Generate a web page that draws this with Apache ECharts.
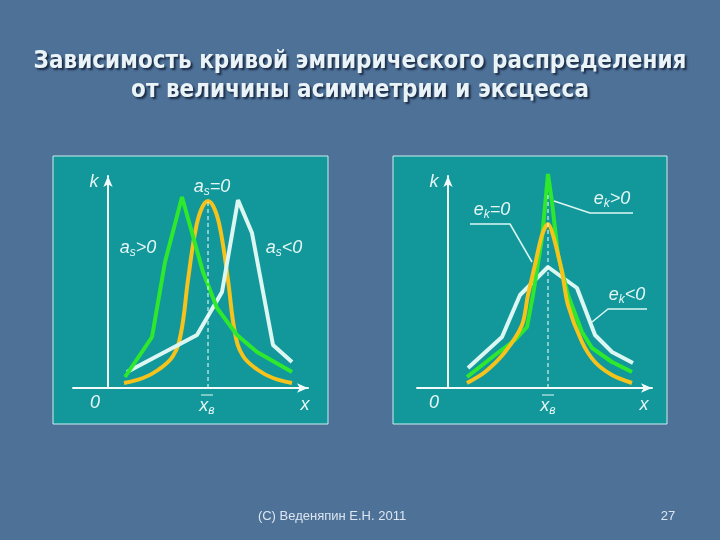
<!DOCTYPE html>
<html>
<head>
<meta charset="utf-8">
<script src="https://cdn.jsdelivr.net/npm/echarts@6/dist/echarts.min.js"></script>
<style>
  html, body { margin: 0; padding: 0; background: #4e7198; }
  #chart { width: 720px; height: 540px; }
</style>
</head>
<body>
<div id="chart"></div>
<script>
// left panel: asymmetry (as)
const skewPosX = [17, 44, 57, 74, 95, 109, 129, 149, 184];
const skewPosY = [11, 51, 126, 191, 116, 80, 53, 36, 16];
const skewZeroX = [16, 35, 50, 65, 73, 80, 87, 93, 100, 107, 113, 120, 127, 135, 150, 165, 184];
const skewZeroY = [5, 10, 18, 32, 55, 108, 155, 178, 187, 178, 155, 108, 55, 32, 18, 10, 5];
const skewNegX = [19, 89, 114, 130, 144, 165, 184];
const skewNegY = [16, 53, 96, 188, 155, 43, 26];

// right panel: excess (ek)
const kurtPosX = [19, 47, 67, 79, 85, 94, 100, 104, 110, 120, 134, 144, 164, 184];
const kurtPosY = [11, 33, 48, 61, 93, 150, 214, 186, 133, 93, 56, 40, 26, 16];
const kurtZeroX = [19, 37, 57, 74, 80, 87, 94, 100, 105, 114, 120, 134, 147, 164, 184];
const kurtZeroY = [5, 16, 36, 63, 93, 123, 153, 164, 153, 116, 83, 46, 26, 13, 5];
const kurtNegX = [20, 54, 72, 100, 129, 147, 164, 185];
const kurtNegY = [20, 51, 93, 121, 100, 53, 36, 25];

const meanX = 100;

const pairs = (xs, ys) => xs.map((x, i) => [x, ys[i]]);

const GREEN = '#2ee82e';
const YELLOW = '#f6c21c';
const WHITE = '#dcf6f2';
const TEAL = '#12989a';
const LABEL = '#e6f6f6';

const myChart = echarts.init(document.getElementById('chart'), null, { renderer: 'canvas' });

function axisX(idx, min, max) {
    return {
        gridIndex: idx, type: 'value', min: min, max: max,
        axisLine: { onZero: true, lineStyle: { color: '#f2fafa', width: 2 }, symbol: ['none', 'arrow'], symbolSize: [7, 11] },
        axisTick: { show: false }, axisLabel: { show: false }, splitLine: { show: false }
    };
}
function axisY(idx) {
    return {
        gridIndex: idx, type: 'value', min: 0, max: 212,
        axisLine: { onZero: true, lineStyle: { color: '#f2fafa', width: 2 }, symbol: ['none', 'arrow'], symbolSize: [7, 11] },
        axisTick: { show: false }, axisLabel: { show: false }, splitLine: { show: false }
    };
}
function curve(idx, xs, ys, color, smooth) {
    return {
        type: 'line', xAxisIndex: idx, yAxisIndex: idx,
        data: pairs(xs, ys), smooth: smooth, symbol: 'none', clip: false, silent: true,
        lineStyle: { color: color, width: 4 }, z: 3
    };
}
function leader(idx, pts) {
    return {
        type: 'line', xAxisIndex: idx, yAxisIndex: idx, data: pts, symbol: 'none',
        silent: true, lineStyle: { color: WHITE, width: 1.5 }, z: 4
    };
}
function dashed(idx, top) {
    return {
        type: 'line', xAxisIndex: idx, yAxisIndex: idx, data: [[meanX, 0], [meanX, top]],
        symbol: 'none', silent: true, lineStyle: { color: '#ffffff', width: 1, type: [4, 3] }, z: 5
    };
}

// label with subscript: main letter, sub letter, tail
function subLabel(x, y, main, sub, tail) {
    return {
        type: 'text', x: x, y: y, z: 100,
        style: {
            text: '{m|' + main + '}{s|' + sub + '}{m|' + tail + '}',
            textAlign: 'center', textVerticalAlign: 'middle',
            rich: {
                m: { fontSize: 18, fontStyle: 'italic', fontFamily: 'Liberation Sans', fill: LABEL, lineHeight: 22, verticalAlign: 'middle' },
                s: { fontSize: 12, fontStyle: 'italic', fontFamily: 'Liberation Sans', fill: LABEL, lineHeight: 10, verticalAlign: 'bottom' }
            }
        }
    };
}
function plainLabel(x, y, t) {
    return {
        type: 'text', x: x, y: y, z: 100,
        style: { text: t, textAlign: 'center', textVerticalAlign: 'middle', fill: LABEL,
                 font: 'italic 18px "Liberation Sans"' }
    };
}
function meanLabel(x, y) {
    return [
        subLabel(x, y, 'x', 'в', ''),
        { type: 'line', z: 100, shape: { x1: x - 6, y1: y - 11, x2: x + 6, y2: y - 11 }, style: { stroke: LABEL, lineWidth: 1 } }
    ];
}
function titleLine(y, t) {
    return {
        type: 'text', x: 360, y: y, z: 100,
        style: { text: t, textAlign: 'center', textVerticalAlign: 'middle',
                 fill: '#eaf4f8', font: 'bold 24px "DejaVu Sans Condensed"',
                 textShadowColor: 'rgba(10,20,40,0.75)', textShadowOffsetX: 2, textShadowOffsetY: 2, textShadowBlur: 2 }
    };
}

myChart.setOption({
    backgroundColor: '#4e7198',
    animation: false,
    grid: [
        { left: 73, top: 176, width: 235, height: 212 },
        { left: 417, top: 176, width: 235, height: 212 }
    ],
    xAxis: [axisX(0, -35, 200), axisX(1, -31, 204)],
    yAxis: [axisY(0), axisY(1)],
    graphic: [
        { type: 'rect', z: -10, shape: { x: 53, y: 156, width: 275, height: 268 }, style: { fill: TEAL, stroke: '#cdeeee', lineWidth: 1 } },
        { type: 'rect', z: -10, shape: { x: 393, y: 156, width: 274, height: 268 }, style: { fill: TEAL, stroke: '#cdeeee', lineWidth: 1 } },
        titleLine(62, 'Зависимость кривой эмпирического распределения'),
        titleLine(91, 'от величины асимметрии и эксцесса'),
        { type: 'text', x: 332, y: 516, z: 100, style: { text: '(С) Веденяпин Е.Н. 2011', textAlign: 'center', textVerticalAlign: 'middle', fill: '#dce6f0', font: '13px "Liberation Sans"' } },
        { type: 'text', x: 668, y: 516, z: 100, style: { text: '27', textAlign: 'center', textVerticalAlign: 'middle', fill: '#dce6f0', font: '13px "Liberation Sans"' } },

        plainLabel(94, 182, 'k'), plainLabel(95, 403, '0'), plainLabel(305, 405, 'x'),
        subLabel(212, 187, 'a', 's', '=0'), subLabel(138, 248, 'a', 's', '>0'), subLabel(284, 248, 'a', 's', '<0'),
        ...meanLabel(207, 406),

        plainLabel(434, 182, 'k'), plainLabel(434, 403, '0'), plainLabel(644, 405, 'x'),
        subLabel(492, 210, 'e', 'k', '=0'), subLabel(612, 199, 'e', 'k', '>0'), subLabel(627, 295, 'e', 'k', '<0'),
        ...meanLabel(548, 406)
    ],
    series: [
        dashed(0, 187),
        curve(0, skewZeroX, skewZeroY, YELLOW, 0.4),
        curve(0, skewNegX, skewNegY, WHITE, false),
        curve(0, skewPosX, skewPosY, GREEN, false),

        dashed(1, 195),
        curve(1, kurtNegX, kurtNegY, WHITE, false),
        curve(1, kurtPosX, kurtPosY, GREEN, false),
        curve(1, kurtZeroX, kurtZeroY, YELLOW, 0.3),
        leader(1, [[22, 164], [62, 164], [84, 126]]),
        leader(1, [[106, 187], [142, 175], [185, 175]]),
        leader(1, [[199, 79], [160, 79], [144, 66]])
    ]
});
</script>
</body>
</html>
